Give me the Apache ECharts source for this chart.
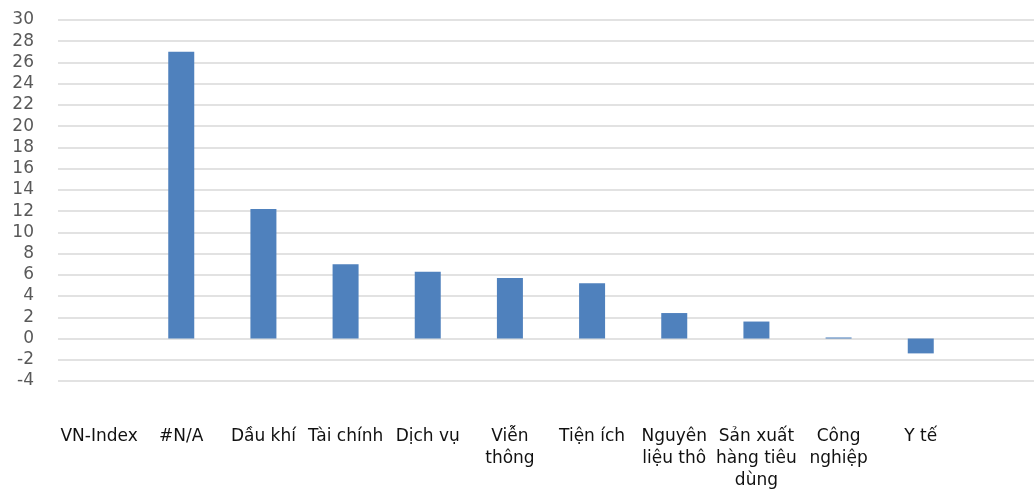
<!DOCTYPE html>
<html>
<head>
<meta charset="utf-8">
<script src="https://cdn.jsdelivr.net/npm/echarts@6/dist/echarts.min.js"></script>
<style>
html,body{margin:0;padding:0;background:#fff;overflow:hidden;width:1034px;height:489px;}
#chart{width:1044px;height:489px;}
</style>
</head>
<body>
<div id="chart"></div>
<script>
var categories = ['VN-Index', '#N/A', 'Dầu khí', 'Tài chính', 'Dịch vụ', 'Viễn\nthông', 'Tiện ích', 'Nguyên\nliệu thô', 'Sản xuất\nhàng tiêu\ndùng', 'Công\nnghiệp', 'Y tế', ''];
var values = [0, 27.0, 12.2, 7.0, 6.3, 5.7, 5.2, 2.4, 1.6, 0.1, -1.4, null];
var yMin = -4, yMax = 30, yStep = 2;

var chart = echarts.init(document.getElementById('chart'));
chart.setOption({
  animation: false,
  grid: { left: 58, top: 20, right: 0, bottom: 108, containLabel: false, outerBoundsMode: 'none' },
  xAxis: {
    type: 'category',
    data: categories,
    axisLine: { show: false },
    axisTick: { show: false },
    splitLine: { show: false },
    axisLabel: {
      interval: 0,
      margin: 45,
      fontFamily: 'DejaVu Sans',
      fontSize: 17,
      lineHeight: 22,
      color: '#111',
      align: 'center'
    }
  },
  yAxis: {
    type: 'value',
    min: yMin,
    max: yMax,
    interval: yStep,
    axisLine: { show: false },
    axisTick: { show: false },
    splitLine: { show: true, lineStyle: { color: '#d9d9d9', width: 1.5 } },
    axisLabel: {
      margin: 24,
      fontFamily: 'DejaVu Sans',
      fontSize: 17,
      color: '#595959'
    }
  },
  series: [{
    type: 'bar',
    data: values,
    barWidth: 26,
    itemStyle: { color: '#4f81bd' }
  }]
});
</script>
</body>
</html>
